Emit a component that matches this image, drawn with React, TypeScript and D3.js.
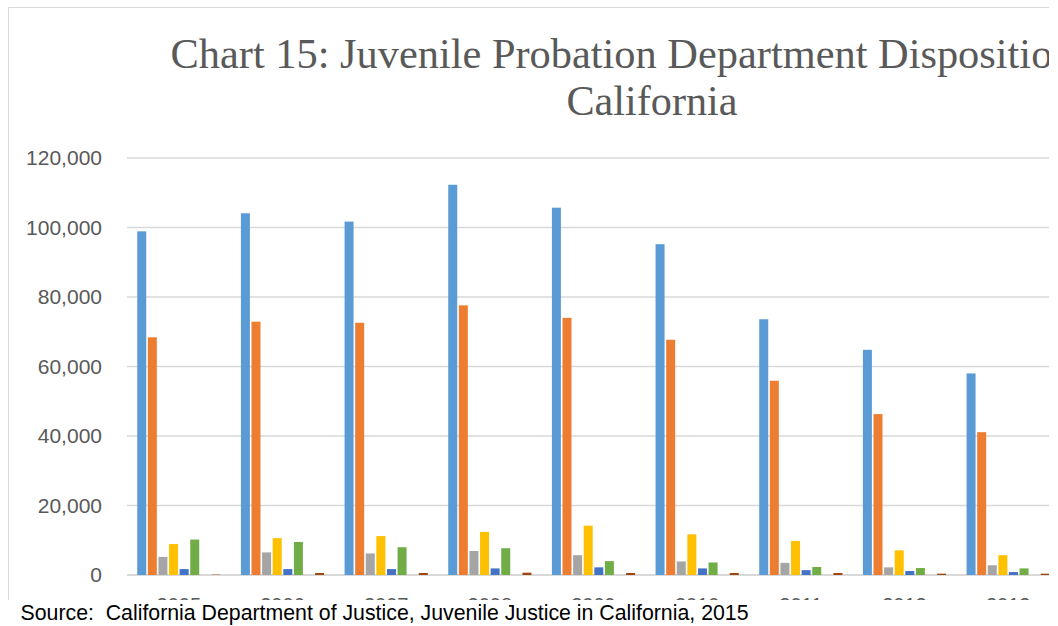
import React from "react";
import * as d3 from "d3";

const years = ["2005", "2006", "2007", "2008", "2009", "2010", "2011", "2012", "2013"];
const seriesNames = ["Series 1", "Series 2", "Series 3", "Series 4", "Series 5", "Series 6", "Series 7", "Series 8"];
const seriesColors = ["#5B9BD5", "#ED7D31", "#A5A5A5", "#FFC000", "#4472C4", "#70AD47", "#264478", "#9E480E"];
const series1 = [98900, 104100, 101700, 112300, 105700, 95200, 73600, 64800, 58000];
const series2 = [68400, 72900, 72600, 77600, 74000, 67700, 55900, 46300, 41100];
const series3 = [5200, 6500, 6200, 6900, 5700, 3900, 3500, 2200, 2800];
const series4 = [8900, 10600, 11200, 12400, 14200, 11700, 9800, 7100, 5700];
const series5 = [1700, 1700, 1700, 1900, 2200, 1900, 1400, 1150, 850];
const series6 = [10200, 9500, 8000, 7700, 4000, 3600, 2300, 2000, 1900];
const series7 = [0, 0, 0, 0, 0, 0, 0, 0, 0];
const series8 = [100, 580, 580, 670, 580, 580, 580, 380, 380];
const allSeries = [series1, series2, series3, series4, series5, series6, series7, series8];
const yTicks = [0, 20000, 40000, 60000, 80000, 100000, 120000];
const titleLine1 = "Chart 15: Juvenile Probation Department Dispositions in";
const titleLine2 = "California";
const sourceText = "Source:  California Department of Justice, Juvenile Justice in California, 2015";

export default function App() {
  const W = 1058, H = 626;
  const plotLeft = 127, plotRight = 1060, plotTop = 158, plotBottom = 575;
  const x0 = d3.scaleBand<string>().domain(years).range([plotLeft, plotRight]).paddingInner(0.182).paddingOuter(0.091);
  const x1 = d3.scaleBand<number>().domain(d3.range(allSeries.length)).range([0, x0.bandwidth()]).padding(0);
  const y = d3.scaleLinear().domain([0, 120000]).range([plotBottom, plotTop]);
  const fmt = d3.format(",");
  const bw = x1.bandwidth();
  return (
    <svg width={W} height={H} style={{ position: "absolute", left: 0, top: 0, background: "#fff" }}>
      <defs>
        <clipPath id="chartClip">
          <rect x={0} y={0} width={1049} height={600} />
        </clipPath>
      </defs>
      <rect x={0} y={0} width={W} height={H} fill="#fff" />
      <g clipPath="url(#chartClip)">
        <line x1={8.5} x2={W} y1={7.5} y2={7.5} stroke="#d9d9d9" strokeWidth={1} />
        <line x1={8.5} x2={8.5} y1={7.5} y2={600} stroke="#d9d9d9" strokeWidth={1} />
        <text x={170.5} y={68} fontFamily="'Liberation Serif', 'Times New Roman', serif" fontSize={42.4} fill="#595959">{titleLine1}</text>
        <text x={652} y={115} textAnchor="middle" fontFamily="'Liberation Serif', 'Times New Roman', serif" fontSize={42.2} fill="#595959">{titleLine2}</text>
        {yTicks.map((t) => (
          <g key={t}>
            <line x1={plotLeft} x2={plotRight} y1={y(t)} y2={y(t)} stroke="#d9d9d9" strokeWidth={t === 0 ? 2 : 1.5} />
            <text x={102} y={y(t)} dy="0.35em" textAnchor="end" fontFamily="'Liberation Sans', Arial, sans-serif" fontSize={21} fill="#595959">{fmt(t)}</text>
          </g>
        ))}
        {years.map((yr, i) => (
          <g key={yr} transform={`translate(${x0(yr)},0)`}>
            {allSeries.map((s, j) => (
              s[i] > 0 ? (
                <rect key={j} x={(x1(j) as number) + 0.8} y={y(s[i])} width={bw - 1.6} height={plotBottom - y(s[i])} fill={seriesColors[j]} />
              ) : null
            ))}
            <text x={x0.bandwidth() / 2} y={611.5} textAnchor="middle" fontFamily="'Liberation Sans', Arial, sans-serif" fontSize={20} fill="#595959">{yr}</text>
          </g>
        ))}
      </g>
      <text x={20.5} y={619.5} fontFamily="'Liberation Sans', Arial, sans-serif" fontSize={21.3} fill="#000" style={{ whiteSpace: "pre" }}>{sourceText}</text>
    </svg>
  );
}
